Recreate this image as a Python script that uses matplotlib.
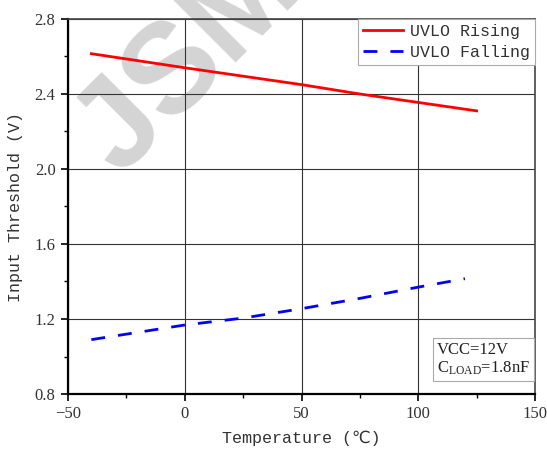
import matplotlib
matplotlib.use("Agg")
import matplotlib.pyplot as plt
from matplotlib.ticker import MultipleLocator

# UVLO thresholds vs temperature
temp_rise = [-40, 0, 25, 50, 75, 100, 125]
uvlo_rise = [2.615, 2.54, 2.495, 2.45, 2.40, 2.355, 2.31]

temp_fall = [-40, 0, 25, 50, 75, 100, 120]
uvlo_fall = [1.09, 1.168, 1.205, 1.255, 1.31, 1.37, 1.415]

plt.rcParams['font.family'] = ['Liberation Serif', 'DejaVu Serif']
label_font = ["Liberation Mono", "DejaVu Sans"]

fig = plt.figure(figsize=(5.47, 4.5), dpi=100)
ax = fig.add_axes([68 / 547, 56 / 450, 467 / 547, 375 / 450])

# watermark
ax.text(0.345, 0.865, "JSM", transform=fig.transFigure, rotation=45,
        fontsize=92, fontweight="bold", color="#d4d4d4", family="Liberation Sans",
        ha="center", va="center", zorder=0.5, clip_on=False)

ax.plot(temp_rise, uvlo_rise, color="#ff0000", lw=2, label="UVLO Rising", zorder=3)
ax.plot(temp_fall, uvlo_fall, color="#0000ff", lw=2, ls=(0, (5, 4.7)),
        label="UVLO Falling", zorder=3)

ax.set_xlim(-50, 150)
ax.set_ylim(0.8, 2.8)
ax.xaxis.set_major_locator(MultipleLocator(50))
ax.xaxis.set_minor_locator(MultipleLocator(25))
ax.yaxis.set_major_locator(MultipleLocator(0.4))
ax.yaxis.set_minor_locator(MultipleLocator(0.2))
ax.set_yticklabels([f"{v:.1f}" for v in ax.get_yticks()])
ax.grid(True, which="major", color="#333333", lw=0.8)
ax.tick_params(which="major", direction="out", length=5, width=1.2, labelsize=12,
               labelcolor="#333333")
ax.tick_params(which="minor", direction="out", length=3, width=1)
ax.tick_params(axis="y", pad=4)

for side in ["left", "bottom"]:
    ax.spines[side].set_linewidth(1.6)
for side in ["top", "right"]:
    ax.spines[side].set_linewidth(1.2)
    ax.spines[side].set_color("#444444")

ax.set_xlabel("Temperature (℃)", fontsize=12, family=label_font,
              color="#333333", labelpad=6)
ax.set_ylabel("Input Threshold (V)", fontsize=12, family=label_font,
              color="#333333", labelpad=8)

leg = ax.legend(loc="upper right", bbox_to_anchor=(1.0, 1.0), fancybox=False,
                framealpha=1, edgecolor="#aaaaaa", borderaxespad=0,
                prop={"family": "Liberation Mono", "size": 12},
                handlelength=2.4, borderpad=0.3, labelspacing=0.35, handletextpad=0.4)
for t in leg.get_texts():
    t.set_color("#333333")
leg.get_frame().set_linewidth(0.8)

ax.text(0.79, 0.045, "VCC=12V\n$\\mathregular{C_{LOAD}}$=1.8nF", transform=ax.transAxes,
        ha="left", va="bottom", fontsize=12, color="#222222", linespacing=1.15,
        bbox=dict(boxstyle="square,pad=0.25", fc="white", ec="#aaaaaa", lw=0.8))

fig.savefig("out.png", dpi=100)
